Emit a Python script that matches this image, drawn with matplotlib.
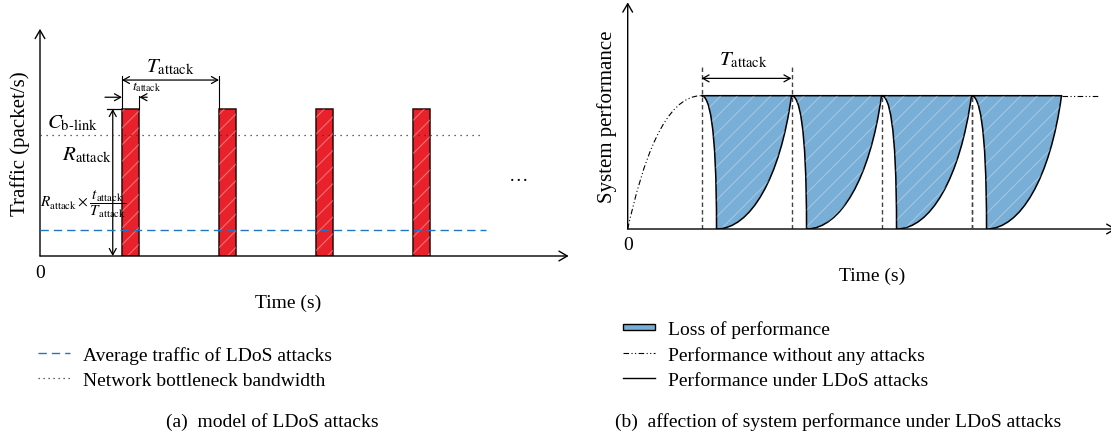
import matplotlib.pyplot as plt
import matplotlib.patches as mpatches
from matplotlib.path import Path
from matplotlib.lines import Line2D
from matplotlib.legend_handler import HandlerPatch

plt.rcParams['font.family'] = 'serif'
plt.rcParams['font.serif'] = ['Liberation Serif', 'DejaVu Serif']
plt.rcParams['mathtext.fontset'] = 'stix'
plt.rcParams['hatch.linewidth'] = 0.8

W, H = 1111, 439
RED = '#e8212b'
BLUE = '#79aed6'
DASH_BLUE = '#1f76c6'
FS = 14

# (a) periodic pulse attack
T_attack = 1.0
t_attack = 0.18
R_attack = 1.0
pulse_starts = [0.845, 1.845, 2.845, 3.845]
bottleneck = 0.825
avg_traffic = R_attack * t_attack / T_attack

# (b) performance under attack, curves given as bezier control points
period_b = 1.0
attack_starts = [0.82, 1.82, 2.82, 3.82]
drop_time = 0.167
plateau = 1.0
drop_ctrl = [(0, 1), (0.5, 1), (1, 0.8), (1, 0)]
recover_ctrl = [(0, 0), (0.45, 0), (0.85, 0.38), (1, 1)]
rise_ctrl = [(0, 0), (0.2, 0.5), (0.5, 1), (1, 1)]


def add_axes_px(fig, x0, y_bottom, width, height):
    return fig.add_axes([x0 / W, 1 - y_bottom / H, width / W, height / H])


def arrow(ax, start, end, style='->,head_length=0.6,head_width=0.35', lw=1.0, color='black'):
    ax.annotate('', xy=end, xytext=start, annotation_clip=False,
                arrowprops=dict(arrowstyle=style, lw=lw, color=color,
                                shrinkA=0, shrinkB=0))


fig = plt.figure(figsize=(W / 100, H / 100), dpi=100)

# ---------------- (a) model of LDoS attacks ----------------
xa_unit, ya_unit = 97.0, 147.0
ax1 = add_axes_px(fig, 40, 257, 5.45 * xa_unit, 1.545 * ya_unit)
ax1.set_xlim(0, 5.45)
ax1.set_ylim(0, 1.545)
ax1.axis('off')

ax1.plot([0, 4.55], [bottleneck, bottleneck], color='#333333', lw=0.9,
         ls=(0, (1, 3.8)), zorder=4)
ax1.plot([0, 4.6], [avg_traffic, avg_traffic], color=DASH_BLUE, lw=1.0,
         ls=(0, (6, 3.6)), zorder=4)

ax1.bar(pulse_starts, R_attack, width=t_attack, align='edge', color=RED,
        edgecolor='#2b0b0b', lw=1.1, zorder=2)
for s in pulse_starts:
    ax1.add_patch(mpatches.Rectangle((s, 0), t_attack, R_attack, facecolor='none',
                                     edgecolor=(1, 1, 1, 0.35), lw=0, hatch='//',
                                     zorder=3))

arrow(ax1, (0, 0), (5.45, 0))
arrow(ax1, (0, 0), (0, 1.545))

p0 = pulse_starts[0]
p1 = pulse_starts[1]
# T_attack span
ax1.plot([p0, p0], [R_attack, 1.227], color='black', lw=0.8)
ax1.plot([p1, p1], [R_attack, 1.227], color='black', lw=0.8)
arrow(ax1, (p0, 1.197), (p1, 1.197), style='<->,head_length=0.45,head_width=0.25', lw=0.9)
ax1.text((p0 + p1) / 2, 1.29, r'$T_{\mathrm{attack}}$', fontsize=15,
         ha='center', va='center')
# t_attack span
ax1.plot([p0 + t_attack] * 2, [R_attack, 1.09], color='black', lw=0.8)
arrow(ax1, (0.67, 1.08), (p0, 1.08), style='->,head_length=0.45,head_width=0.25', lw=0.9)
arrow(ax1, (p0 + t_attack + 0.08, 1.08), (p0 + t_attack, 1.08),
      style='->,head_length=0.45,head_width=0.25', lw=0.9)
ax1.text(p0 + t_attack + 0.07, 1.155, r'$t_{\mathrm{attack}}$', fontsize=10,
         ha='center', va='center')
# R_attack height
ax1.plot([0.69, p0], [R_attack, R_attack], color='black', lw=0.9)
arrow(ax1, (0.75, 0), (0.75, R_attack), style='<->,head_length=0.45,head_width=0.25', lw=0.9)
ax1.text(0.34, 0.91, r'$C_{\text{b-link}}$', fontsize=15, ha='center', va='center')
ax1.text(0.48, 0.69, r'$R_{\mathrm{attack}}$', fontsize=15, ha='center', va='center')
ax1.text(0.45, 0.36, r'$R_{\mathrm{attack}}\times\dfrac{t_{\mathrm{attack}}}{T_{\mathrm{attack}}}$',
         fontsize=11, ha='center', va='center')
ax1.text(4.93, 0.55, '…', fontsize=14, ha='center', va='center')

ax1.text(0, -0.109, '0', fontsize=FS, ha='center', va='center')
ax1.text(2.557, -0.315, 'Time (s)', fontsize=FS, ha='center', va='center')
ax1.text(-0.206, 0.773, 'Traffic (packet/s)', fontsize=15, rotation=90,
         ha='center', va='center')

# ---------------- (b) affection of system performance ----------------
xb_unit, yb_unit = 90.0, 133.3
ax2 = add_axes_px(fig, 627.7, 230, 5.4 * xb_unit, 1.7 * yb_unit)
ax2.set_xlim(0, 5.4)
ax2.set_ylim(0, 1.7)
ax2.axis('off')


def bezier(ctrl, t0, dt, y0=0.0):
    return [(t0 + dt * u, y0 + plateau * v) for u, v in ctrl]


def cycle_path(t0):
    rec = period_b - drop_time
    verts = bezier(drop_ctrl, t0, drop_time)
    verts += bezier(recover_ctrl, t0 + drop_time, rec)[1:]
    verts.append((t0, plateau))
    codes = [Path.MOVETO] + [Path.CURVE4] * 6 + [Path.CLOSEPOLY]
    return Path(verts, codes)


for i, s in enumerate(attack_starts):
    top = 1.225 if i < 2 else plateau
    ax2.plot([s, s], [0, top], color='#444444', lw=1.0, ls=(0, (3.2, 2.2)), zorder=1)
    path = cycle_path(s)
    ax2.add_patch(mpatches.PathPatch(path, facecolor=BLUE, edgecolor='black',
                                     lw=1.1, zorder=2))
    ax2.add_patch(mpatches.PathPatch(path, facecolor='none', edgecolor=(1, 1, 1, 0.3),
                                     lw=0, hatch='//', zorder=3))
ax2.plot([attack_starts[-1]] * 2, [0, plateau], color='#444444', lw=1.0,
         ls=(0, (3.2, 2.2)), zorder=4)

dashdot = (0, (5, 2.2, 1, 2.2, 1, 2.2))
rise = Path(bezier(rise_ctrl, 0, attack_starts[0]),
            [Path.MOVETO, Path.CURVE4, Path.CURVE4, Path.CURVE4])
ax2.add_patch(mpatches.PathPatch(rise, facecolor='none', edgecolor='black',
                                 lw=0.8, ls=dashdot))
ax2.plot([attack_starts[-1] + period_b, 5.25], [plateau, plateau], color='black',
         lw=0.8, ls=dashdot)

arrow(ax2, (0, 0), (5.43, 0))
arrow(ax2, (0, 0), (0, 1.7))

b0, b1 = attack_starts[0], attack_starts[1]
arrow(ax2, (b0, 1.13), (b1, 1.13), style='<->,head_length=0.45,head_width=0.25', lw=0.9)
ax2.text((b0 + b1) / 2 - 0.03, 1.275, r'$T_{\mathrm{attack}}$', fontsize=15,
         ha='center', va='center')

ax2.text(0, -0.118, '0', fontsize=FS, ha='center', va='center')
ax2.text(2.72, -0.35, 'Time (s)', fontsize=FS, ha='center', va='center')
ax2.text(-0.233, 0.848, 'System performance', fontsize=15, rotation=90,
         ha='center', va='center')

# ---------------- legends and captions ----------------
leg_kw = dict(loc='upper left', frameon=False, fontsize=FS, handlelength=1.65,
              handletextpad=0.68, labelspacing=0.4, borderpad=0, borderaxespad=0)

fig.legend(handles=[Line2D([], [], color=DASH_BLUE, lw=1.0, ls=(0, (6, 3.6))),
                    Line2D([], [], color='#333333', lw=0.9, ls=(0, (1, 3)))],
           labels=['Average traffic of LDoS attacks', 'Network bottleneck bandwidth'],
           bbox_to_anchor=(38 / W, 1 - 347 / H), **leg_kw)


def thin_box(legend, orig_handle, xdescent, ydescent, width, height, fontsize):
    return mpatches.Rectangle((-xdescent, -ydescent + height * 0.25), width, height * 0.5)


loss_patch = mpatches.Patch(facecolor=BLUE, edgecolor='black', lw=1.0)
fig.legend(handles=[loss_patch,
                    Line2D([], [], color='black', lw=0.8, ls=dashdot),
                    Line2D([], [], color='black', lw=1.0)],
           labels=['Loss of performance', 'Performance without any attacks',
                   'Performance under LDoS attacks'],
           handler_map={mpatches.Patch: HandlerPatch(patch_func=thin_box)},
           bbox_to_anchor=(623 / W, 1 - 321 / H), **leg_kw)

fig.text(272.5 / W, 1 - 421.7 / H, '(a)  model of LDoS attacks', fontsize=FS,
         ha='center', va='center')
fig.text(838.3 / W, 1 - 421.7 / H, '(b)  affection of system performance under LDoS attacks',
         fontsize=FS, ha='center', va='center')

fig.savefig('out.png', dpi=100)
